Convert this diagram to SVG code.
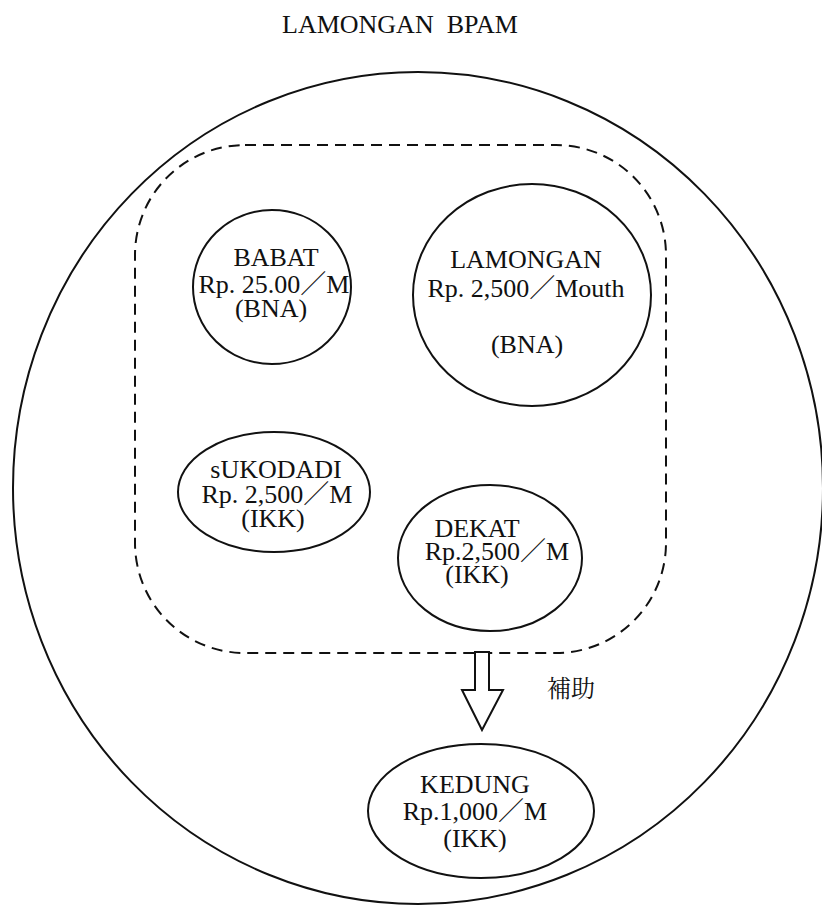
<svg xmlns="http://www.w3.org/2000/svg" width="822" height="907" viewBox="0 0 822 907">
<style>
.t{font-family:"Liberation Serif","Noto Serif CJK JP","Noto Sans CJK JP",serif;font-size:26px;fill:#111;text-anchor:middle}
.n{fill:none;stroke:#111;stroke-width:2}
.d{fill:none;stroke:#111;stroke-width:2;stroke-dasharray:11 7}
</style>
<rect width="822" height="907" fill="#fff"/>
<text class="t" x="400" y="33" xml:space="preserve">LAMONGAN  BPAM</text>
<g id="bpam"><ellipse class="n" cx="418" cy="488" rx="405" ry="416"/></g>
<g id="group"><rect class="d" x="135" y="145" width="531" height="508" rx="110" ry="110"/></g>
<g id="babat">
<ellipse class="n" cx="272" cy="287" rx="79" ry="77"/>
<text class="t" x="276" y="266">BABAT</text>
<text class="t" x="274" y="293">Rp. 25.00／M</text>
<text class="t" x="271" y="317">(BNA)</text>
</g>
<g id="lamongan">
<ellipse class="n" cx="532" cy="295" rx="119" ry="111"/>
<text class="t" x="526" y="268">LAMONGAN</text>
<text class="t" x="526" y="297">Rp. 2,500／Mouth</text>
<text class="t" x="527" y="353">(BNA)</text>
</g>
<g id="sukodadi">
<ellipse class="n" cx="274" cy="492" rx="96" ry="60"/>
<text class="t" x="276" y="478">sUKODADI</text>
<text class="t" x="277" y="503">Rp. 2,500／M</text>
<text class="t" x="273" y="527">(IKK)</text>
</g>
<g id="dekat">
<ellipse class="n" cx="490" cy="558" rx="92" ry="73"/>
<text class="t" x="477" y="537">DEKAT</text>
<text class="t" x="497" y="560">Rp.2,500／M</text>
<text class="t" x="477" y="583">(IKK)</text>
</g>
<g id="kedung">
<ellipse class="n" cx="481" cy="811" rx="113" ry="67"/>
<text class="t" x="475" y="793">KEDUNG</text>
<text class="t" x="475" y="820">Rp.1,000／M</text>
<text class="t" x="475" y="847">(IKK)</text>
</g>
<g id="connectors">
<polygon points="475,652 475,690 462,690 482,730 503,690 489,690 489,652" fill="#fff" stroke="#111" stroke-width="2" stroke-linejoin="miter"/>
<text class="t" x="571" y="697" style="font-size:24px">補助</text>
</g>
</svg>
